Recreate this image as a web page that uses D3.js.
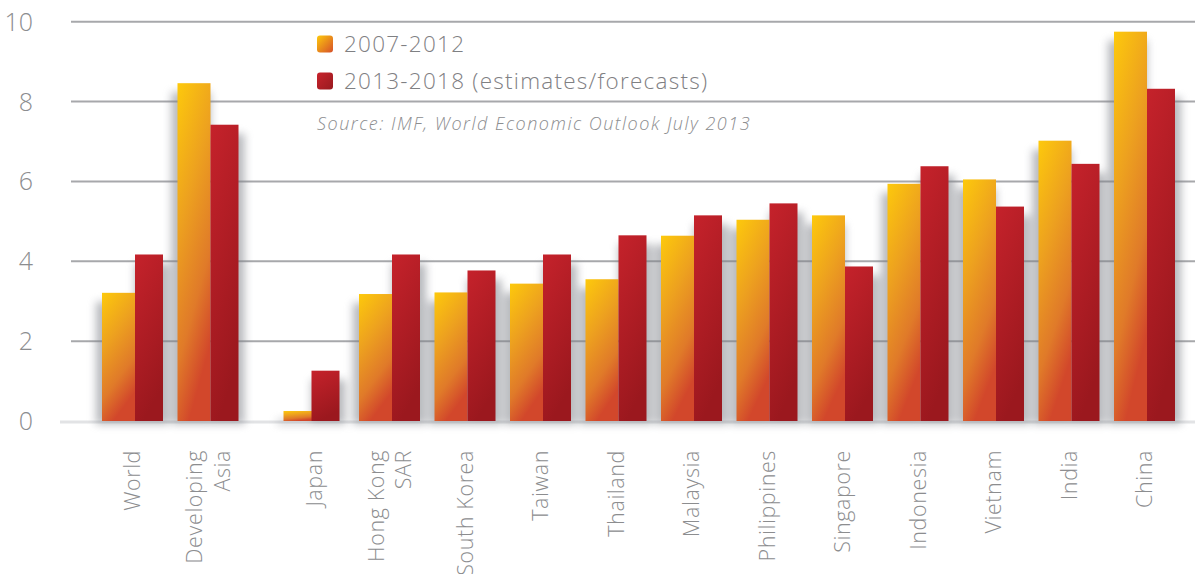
<!DOCTYPE html>
<html>
<head>
<meta charset="utf-8">
<script src="https://cdn.jsdelivr.net/npm/d3@7"></script>
<style>
  html, body { margin: 0; padding: 0; background: #fff; }
  svg { display: block; }
  text { font-family: "Open Sans", "DejaVu Sans", sans-serif; }
</style>
</head>
<body>
<svg id="chart" width="1195" height="574"></svg>
<script>
const categories = ["World", "Developing Asia", "Japan", "Hong Kong SAR", "South Korea", "Taiwan", "Thailand",
  "Malaysia", "Philippines", "Singapore", "Indonesia", "Vietnam", "India", "China"];
const labelLines = [["World"], ["Developing", "Asia"], ["Japan"], ["Hong Kong", "SAR"], ["South Korea"], ["Taiwan"],
  ["Thailand"], ["Malaysia"], ["Philippines"], ["Singapore"], ["Indonesia"], ["Vietnam"], ["India"], ["China"]];
const series2007 = [3.21, 8.46, 0.25, 3.18, 3.22, 3.44, 3.55, 4.64, 5.04, 5.15, 5.94, 6.05, 7.02, 9.75];
const series2013 = [4.17, 7.42, 1.26, 4.17, 3.77, 4.17, 4.65, 5.15, 5.45, 3.87, 6.38, 5.37, 6.44, 8.32];
const yTicks = [0, 2, 4, 6, 8, 10];
const legendLabels = ["2007-2012", "2013-2018 (estimates/forecasts)"];
const sourceText = "Source: IMF, World Economic Outlook July 2013";
const gapAfter = "Developing Asia";

const svg = d3.select("#chart");
const W = 1195, H = 574;

const y = d3.scaleLinear().domain([0, 10]).range([421, 21.7]);
const x = d3.scaleBand().domain(categories).range([102, 102 + 75.5 * categories.length]).padding(0);
const gapIndex = categories.indexOf(gapAfter);
const gapWidth = 30.5;
const gx = c => x(c) + (categories.indexOf(c) > gapIndex ? gapWidth : 0);
const w1 = 33, w2 = 28;
const x2 = c => gx(c) + w1 - (c === "Japan" ? 5 : 0);

const defs = svg.append("defs");
const gY = defs.append("linearGradient").attr("id", "gradY").attr("x1", 0).attr("y1", 0).attr("x2", 0.35).attr("y2", 1);
gY.append("stop").attr("offset", 0).attr("stop-color", "#fdc90c");
gY.append("stop").attr("offset", 0.4).attr("stop-color", "#eda11f");
gY.append("stop").attr("offset", 0.75).attr("stop-color", "#e07a29");
gY.append("stop").attr("offset", 1).attr("stop-color", "#d2472b");
const gR = defs.append("linearGradient").attr("id", "gradR").attr("x1", 0).attr("y1", 0).attr("x2", 0.3).attr("y2", 1);
gR.append("stop").attr("offset", 0).attr("stop-color", "#c5222b");
gR.append("stop").attr("offset", 1).attr("stop-color", "#9b181e");
const gYL = defs.append("linearGradient").attr("id", "gradYL").attr("x1", 0).attr("y1", 0).attr("x2", 1).attr("y2", 1);
gYL.append("stop").attr("offset", 0).attr("stop-color", "#fdc90c");
gYL.append("stop").attr("offset", 1).attr("stop-color", "#d6502a");
const gRL = defs.append("linearGradient").attr("id", "gradRL").attr("x1", 0).attr("y1", 0).attr("x2", 1).attr("y2", 1);
gRL.append("stop").attr("offset", 0).attr("stop-color", "#c8232c");
gRL.append("stop").attr("offset", 1).attr("stop-color", "#981a1f");

const blur = defs.append("filter").attr("id", "shadow").attr("x", "-50%").attr("y", "-20%").attr("width", "200%").attr("height", "140%");
blur.append("feGaussianBlur").attr("stdDeviation", 4.5);

// gridlines
svg.append("g").selectAll("line").data(yTicks.filter(d => d > 0)).join("line")
  .attr("x1", 71).attr("x2", W).attr("y1", d => y(d)).attr("y2", d => y(d))
  .attr("stroke", "#a7a8ab").attr("stroke-width", 2);
svg.append("line").attr("x1", 60).attr("x2", W).attr("y1", y(0) + 1).attr("y2", y(0) + 1)
  .attr("stroke", "#e2e3e5").attr("stroke-width", 3);

// y labels
svg.append("g").selectAll("text").data(yTicks).join("text")
  .attr("x", 33).attr("y", d => y(d)).attr("dy", "0.36em")
  .attr("text-anchor", "end").attr("font-size", 25).attr("font-weight", 300)
  .attr("fill", "#8c8d8f").text(d => d);

// shadows (per bar)
const shadowG = svg.append("g").attr("filter", "url(#shadow)").attr("opacity", 0.55);
shadowG.selectAll("rect.s1").data(categories).join("rect").attr("class", "s1")
  .attr("x", c => gx(c) - 6).attr("width", w1 + 6)
  .attr("y", (c, i) => y(series2007[i]) + 9)
  .attr("height", (c, i) => Math.max(0, y(0) + 3 - y(series2007[i]) - 9))
  .attr("fill", "#7d8087");
shadowG.selectAll("rect.s2").data(categories).join("rect").attr("class", "s2")
  .attr("x", c => x2(c)).attr("width", w2 + 6)
  .attr("y", (c, i) => y(series2013[i]) + 9)
  .attr("height", (c, i) => Math.max(0, y(0) + 3 - y(series2013[i]) - 9))
  .attr("fill", "#7d8087");

// bars
const bars = svg.append("g");
bars.selectAll("rect.b1").data(categories).join("rect").attr("class", "b1")
  .attr("x", c => gx(c)).attr("width", w1)
  .attr("y", (c, i) => y(series2007[i])).attr("height", (c, i) => y(0) - y(series2007[i]))
  .attr("fill", "url(#gradY)");
bars.selectAll("rect.b2").data(categories).join("rect").attr("class", "b2")
  .attr("x", c => x2(c)).attr("width", w2)
  .attr("y", (c, i) => y(series2013[i])).attr("height", (c, i) => y(0) - y(series2013[i]))
  .attr("fill", "url(#gradR)");

// x labels
const lg = svg.append("g").selectAll("text").data(categories).join("text")
  .attr("transform", c => `translate(${gx(c) + (w1 + w2) / 2},450) rotate(-90)`)
  .attr("text-anchor", "end").attr("font-size", 21.5).attr("font-weight", 300)
  .attr("letter-spacing", 0.6).attr("fill", "#8c8d8f");
lg.each(function(c, i) {
  const lines = labelLines[i];
  const t = d3.select(this);
  lines.forEach((ln, k) => {
    const off = (k - (lines.length - 1) / 2) * 27.5;
    t.append("tspan").attr("x", 0).attr("y", off).attr("dy", "0.36em").text(ln);
  });
});

// legend
const leg = svg.append("g");
const legY = [44, 81];
leg.selectAll("rect").data(legendLabels).join("rect")
  .attr("x", 317).attr("y", (d, i) => legY[i] - 8.5).attr("width", 16).attr("height", 17).attr("rx", 3)
  .attr("fill", (d, i) => i === 0 ? "url(#gradYL)" : "url(#gradRL)");
leg.selectAll("text").data(legendLabels).join("text")
  .attr("x", 344).attr("y", (d, i) => legY[i]).attr("dy", "0.36em")
  .attr("font-size", 22.5).attr("font-weight", 300).attr("letter-spacing", 1.25)
  .attr("fill", "#7f8083").text(d => d);
svg.append("text").attr("x", 317).attr("y", 130)
  .attr("font-size", 18).attr("font-style", "italic").attr("font-weight", 300)
  .attr("letter-spacing", 1.5).attr("fill", "#8c8d8f")
  .text(sourceText);
</script>
</body>
</html>
